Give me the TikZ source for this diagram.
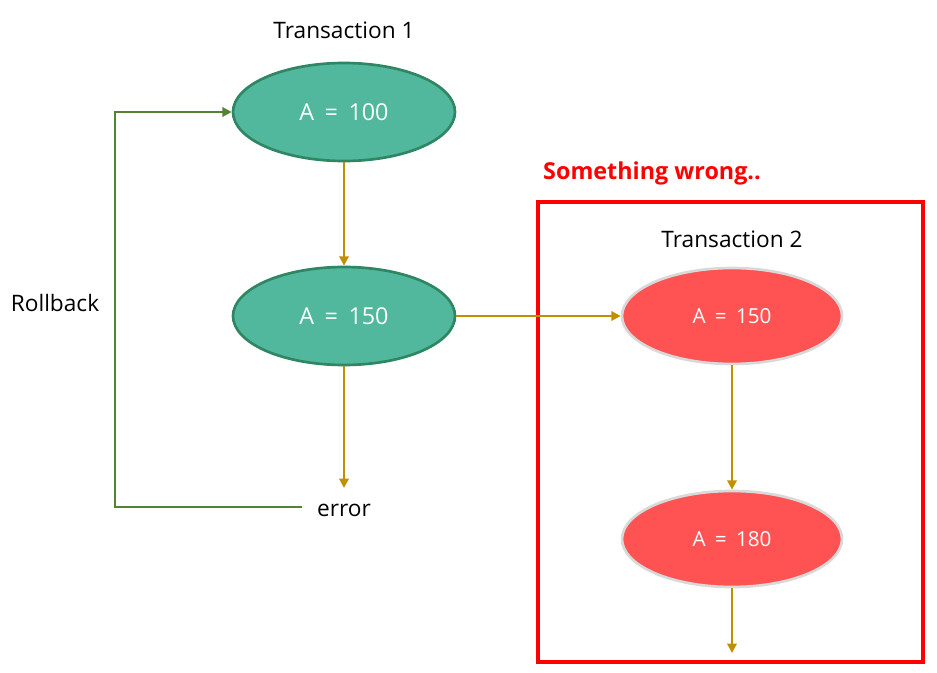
\documentclass[tikz,border=0pt]{standalone}
\usepackage{fontspec}
\setmainfont{Open Sans}
\usetikzlibrary{shapes.geometric,arrows.meta}
\definecolor{tgreen}{RGB}{82,184,157}
\definecolor{tgreenb}{RGB}{46,135,98}
\definecolor{tred}{RGB}{255,82,82}
\definecolor{tgray}{RGB}{217,217,217}
\definecolor{gold}{RGB}{192,144,0}
\definecolor{olive}{RGB}{84,130,53}
\definecolor{bred}{RGB}{255,0,0}
\newcommand{\eqsp}{\hspace{0.45em}=\hspace{0.45em}}
\tikzset{
  greenell/.style={ellipse, draw=tgreenb, fill=tgreen, line width=2pt, minimum width=222*0.75pt, minimum height=98*0.75pt, inner sep=0pt, text=white, font=\fontsize{17.5}{20}\selectfont},
  redell/.style={ellipse, draw=tgray, fill=tred, line width=2pt, minimum width=220*0.75pt, minimum height=96*0.75pt, inner sep=0pt, text=white, font=\fontsize{15.5}{18}\selectfont},
  lbl/.style={font=\fontsize{17}{20}\selectfont, inner sep=0pt},
  flow/.style={draw=gold, line width=2pt, -{Triangle[length=7pt,width=7pt]}},
  back/.style={draw=olive, line width=2pt},
}
\begin{document}
\begin{tikzpicture}[x=0.75pt,y=-0.75pt]
\useasboundingbox (0,0) rectangle (937,673);
\node[lbl] (t1) at (344,30) {Transaction 1};
\node[greenell] (a100) at (344,112) {A\eqsp 100};
\node[greenell] (a150) at (344,316) {A\eqsp 150};
\node[lbl] (err) at (344,510) {error};
\node[lbl] (rb) at (55,303) {Rollback};
\node[font=\bfseries\fontsize{17.5}{20}\selectfont, text=bred, inner sep=0pt] (sw) at (652,173) {Something wrong..};
\node[draw=bred, line width=2.4pt, minimum width=385*0.75pt, minimum height=460*0.75pt, inner sep=0pt] (box) at (730.5,432) {};
\node[lbl] (t2) at (732,239) {Transaction 2};
\node[redell] (r150) at (732,316) {A\eqsp 150};
\node[redell] (r180) at (732,539) {A\eqsp 180};
\coordinate (end) at (732,653);
\coordinate (errtop) at (344,488);
\coordinate (c1) at (302,507);
\coordinate (c2) at (115,507);
\coordinate (c3) at (115,112);
\draw[flow] (a100) -- (a150);
\draw[flow] (a150) -- (errtop);
\draw[flow] (a150) -- (r150);
\draw[flow] (r150) -- (r180);
\draw[flow] (r180) -- (end);
\draw[back, -{Triangle[length=7pt,width=7pt]}] (c1) -- (c2) -- (c3) -- (a100);
\end{tikzpicture}
\end{document}
